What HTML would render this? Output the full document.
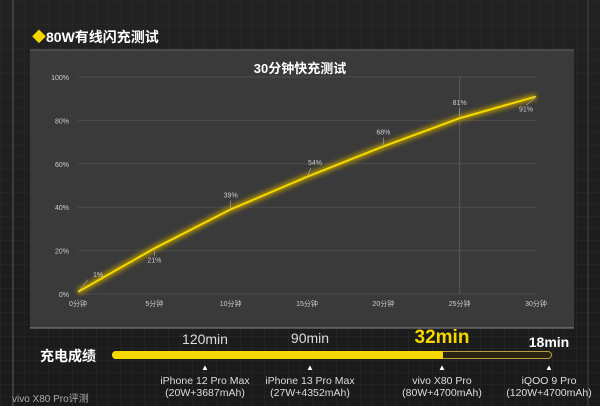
<!DOCTYPE html>
<html><head><meta charset="utf-8"><style>
body{margin:0;width:600px;height:406px;overflow:hidden;background:#1c1c1c;font-family:"Liberation Sans","Noto Sans CJK SC",sans-serif;}
#root{position:relative;width:600px;height:406px;background:linear-gradient(#222,#1a1a1a);}
.t{position:absolute;white-space:nowrap;}
</style></head><body>
<div id="root">
<svg width="600" height="406" style="position:absolute;left:0;top:0" id="svg">
 <defs><pattern id="g" width="12" height="12" patternUnits="userSpaceOnUse"><path d="M12 0H0V12" fill="none" stroke="#2a2a2a" stroke-width="1"/></pattern>
 <filter id="glow"><feGaussianBlur stdDeviation="2.5"/></filter></defs>
 <rect width="600" height="406" fill="url(#g)"/>
 <line x1="13" y1="0" x2="13" y2="406" stroke="#555" stroke-width="1"/>
 <line x1="588" y1="0" x2="588" y2="406" stroke="#444" stroke-width="1"/>
 <rect x="30" y="50" width="544" height="278" fill="#3a3a3a"/>
 <line x1="30" y1="328" x2="574" y2="328" stroke="#888"/>
 <line x1="30" y1="50" x2="574" y2="50" stroke="#666"/>
 <g id="grid"></g><g id="plot"></g>
</svg>
<div class="t" style="left:32px;top:27px;color:#fff;font-weight:bold;font-size:14px;"><span style="color:#f5d800">◆</span>80W有线闪充测试</div>
<div class="t" style="left:0;width:600px;text-align:center;top:58px;color:#fff;font-weight:bold;font-size:13px;">30分钟快充测试</div>
<div class="t" style="left:40px;top:346px;color:#fff;font-weight:bold;font-size:14px;">充电成绩</div>
<div style="position:absolute;left:112px;top:351px;width:438px;height:6px;border:1px solid #b8a040;border-radius:4px;background:#2a2410;"></div>
<div style="position:absolute;left:112px;top:351px;width:331px;height:8px;border-radius:4px 0 0 4px;background:#f5d800;"></div>
<div class="t" style="left:175px;top:331px;width:60px;text-align:center;color:#ddd;font-size:14px;">120min</div>
<div class="t" style="left:280px;top:330px;width:60px;text-align:center;color:#ddd;font-size:14px;">90min</div>
<div class="t" style="left:402px;top:327px;width:80px;text-align:center;color:#f5d800;font-size:19px;font-weight:bold;">32min</div>
<div class="t" style="left:519px;top:334px;width:60px;text-align:center;color:#fff;font-size:14px;font-weight:bold;">18min</div>
<div id="devs"></div>
<div class="t" style="left:12px;top:390px;color:#aaa;font-size:10px;">vivo X80 Pro评测</div>
</div>
<script>
const categories=["0分钟","5分钟","10分钟","15分钟","20分钟","25分钟","30分钟"];
const values=[1,21,39,54,68,81,91];
const labels=["1%","21%","39%","54%","68%","81%","91%"];
const yTicks=[0,20,40,60,80,100];
const devices=["iPhone 12 Pro Max","iPhone 13 Pro Max","vivo X80 Pro","iQOO 9 Pro"];
const deviceSpecs=["(20W+3687mAh)","(27W+4352mAh)","(80W+4700mAh)","(120W+4700mAh)"];
const deviceMinutes=[120,90,32,18];
const NS="http://www.w3.org/2000/svg";
const X0=78,X1=536,Y0=294,Y1=77;
const x=i=>X0+(X1-X0)*i/(categories.length-1);
const y=v=>Y0-(Y0-Y1)*v/100;
function mk(t,a,p){const e=document.createElementNS(NS,t);for(const k in a)e.setAttribute(k,a[k]);p.appendChild(e);return e;}
const grid=document.getElementById('grid'),plot=document.getElementById('plot');
yTicks.forEach(v=>{
 const l=mk('line',{x1:X0,x2:X1,y1:y(v),y2:y(v),stroke:'#4c4c4c'},grid);
 
 
 const t=mk('text',{x:X0-9,y:y(v)+3,fill:'#ccc','font-size':7,'text-anchor':'end'},grid);t.textContent=v+'%';
 
 
});
categories.forEach((c,i)=>{
 const t=mk('text',{x:x(i),y:Y0+12,fill:'#ccc','font-size':7,'text-anchor':'middle'},grid);t.textContent=c;
 
 
});
const vl=mk('line',{x1:x(5),x2:x(5),y1:Y1,y2:Y0,stroke:'#5a5a5a'},grid);


const pts=values.map((v,i)=>x(i)+','+y(v)).join(' ');
const gl=mk('polyline',{points:pts,fill:'none',stroke:'#b89a00','stroke-width':6,filter:'url(#glow)',opacity:0.9},plot);


const ln=mk('polyline',{points:pts,fill:'none',stroke:'#f5d800','stroke-width':2},plot);


const off=[[14,-15],[0,14],[0,-12],[8,-12],[0,-12],[0,-13],[-10,15]];
values.forEach((v,i)=>{
 const px=x(i),py=y(v),lx=px+off[i][0],ly=py+off[i][1];
 mk('line',{x1:px,y1:py,x2:lx-(off[i][0]>0?4:0),y2:ly+(off[i][1]<0?3:-6),stroke:'#aaa','stroke-width':0.6},plot);
 const t=mk('text',{x:lx+(i==0?6:0),y:ly,fill:'#ccc','font-size':7,'text-anchor':'middle'},plot);t.textContent=labels[i];
 
 
});
const devX=[205,310,442,549];
const dv=document.getElementById('devs');
devices.forEach((d,i)=>{
 const e=document.createElement('div');
 e.className='t';
 e.style.cssText=`left:${devX[i]-60}px;top:362px;width:120px;text-align:center;color:#ddd;font-size:10.5px;line-height:12.5px;`;
 e.innerHTML=`<div style="font-size:8px;color:#fff">▲</div>${d}<br>${deviceSpecs[i]}`;
 
 
 dv.appendChild(e);
});
</script>
</body></html>
